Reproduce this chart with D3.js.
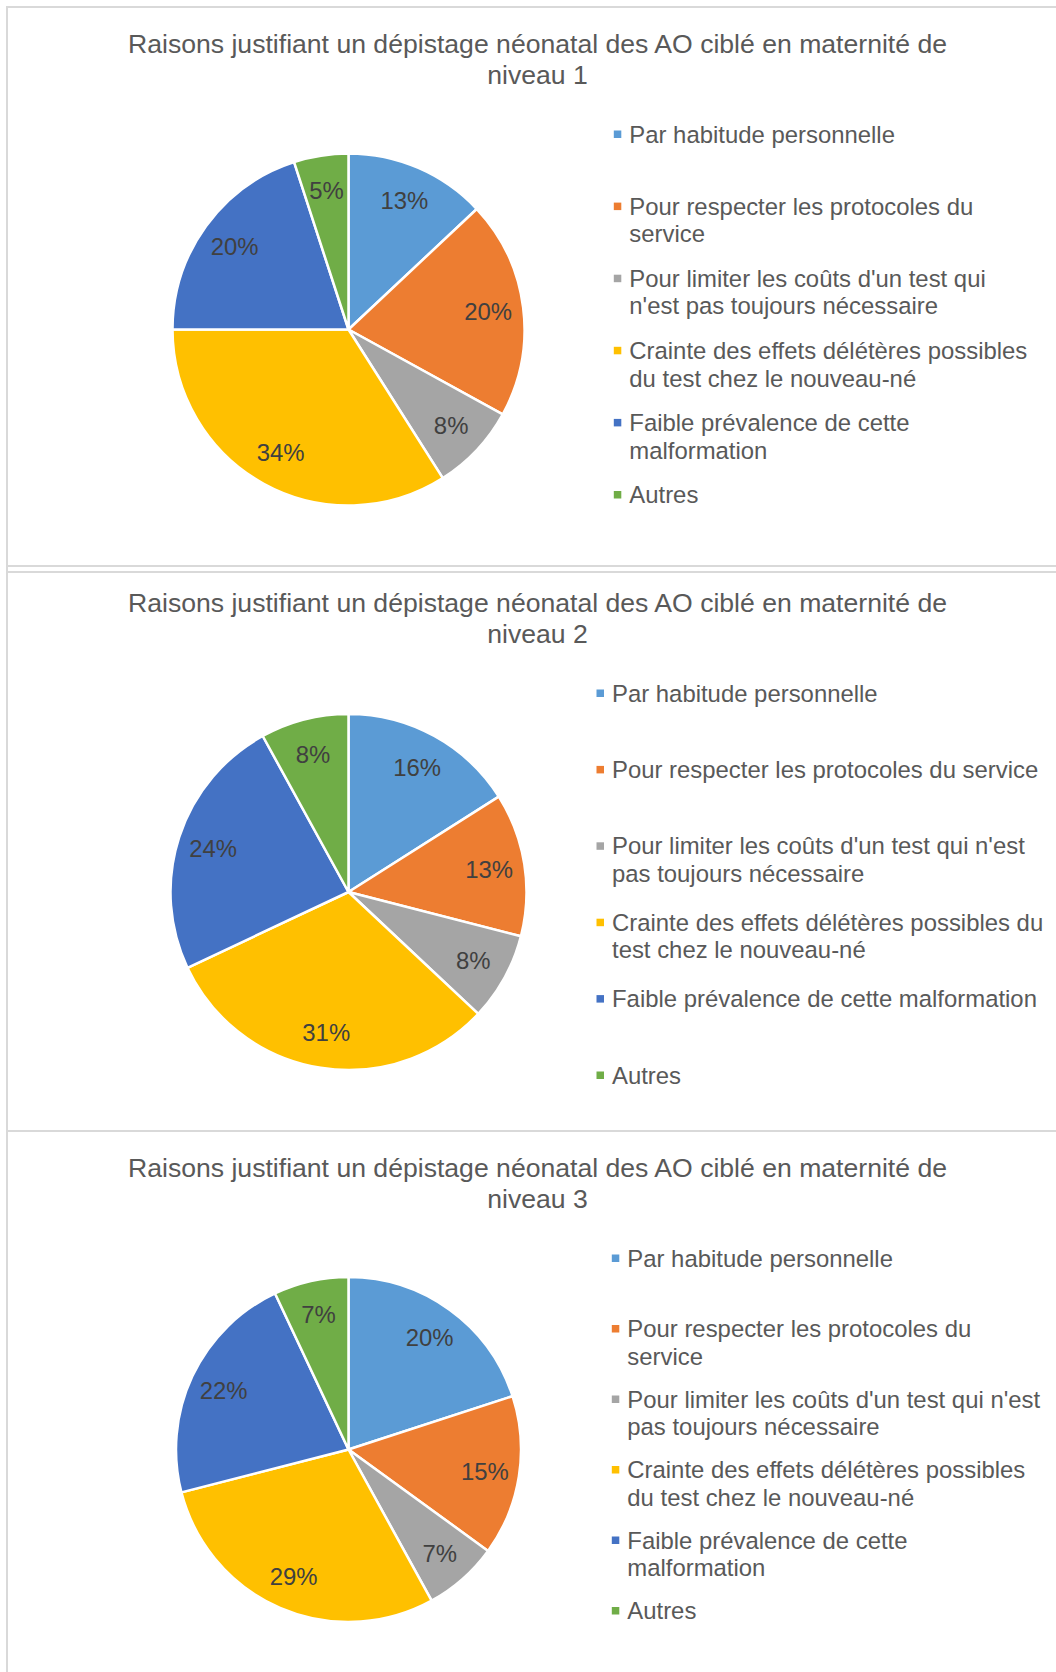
<!DOCTYPE html>
<html>
<head>
<meta charset="utf-8">
<script src="https://cdn.jsdelivr.net/npm/d3@7"></script>
<style>
  body { margin: 0; background: #fff; }
  svg { display: block; font-family: "Liberation Sans", Arial, sans-serif; }
</style>
</head>
<body>
<svg id="chart"></svg>
<script>
// categories shared by the three charts
let categories = [
  "Par habitude personnelle",
  "Pour respecter les protocoles du service",
  "Pour limiter les coûts d'un test qui n'est pas toujours nécessaire",
  "Crainte des effets délétères possibles du test chez le nouveau-né",
  "Faible prévalence de cette malformation",
  "Autres"
];
let colors = ["#5B9BD5", "#ED7D31", "#A5A5A5", "#FFC000", "#4472C4", "#70AD47"];

let titles = [
  "Raisons justifiant un dépistage néonatal des AO ciblé en maternité de niveau 1",
  "Raisons justifiant un dépistage néonatal des AO ciblé en maternité de niveau 2",
  "Raisons justifiant un dépistage néonatal des AO ciblé en maternité de niveau 3"
];

// percentages (niveau 1, 2, 3)
let niveau1 = [13, 20, 8, 34, 20, 5];
let niveau2 = [16, 13, 8, 31, 24, 8];
let niveau3 = [20, 15, 7, 29, 22, 7];

let width = 1056;
let height = 1672;
let fontSize = 23.9;
let titleSize = 26.6;

// layout of each panel (picked to match the screenshot)
let panels = [
  { top: 7, values: niveau1, cyOff: 322.5, r: 176, legendX: 629.3, legendStep: 72.1, wrap: 406 },
  { top: 566, values: niveau2, cyOff: 326, r: 178, legendX: 612, legendStep: 76.4, wrap: 445 },
  { top: 1131, values: niveau3, cyOff: 318.5, r: 172.5, legendX: 627.3, legendStep: 70.5, wrap: 419 }
];

let svg = d3.select("#chart").attr("width", width).attr("height", height);

// measure text to wrap lines like Excel does
let measure = svg.append("text").attr("visibility", "hidden");
const wrapText = (str, maxW, size) => {
  measure.attr("font-size", size);
  let words = str.split(" ");
  let lines = [];
  let line = "";
  words.forEach((w) => {
    let test = line ? line + " " + w : w;
    measure.text(test);
    if (line && measure.node().getComputedTextLength() > maxW) {
      lines.push(line);
      line = w;
    } else {
      line = test;
    }
  });
  lines.push(line);
  return lines;
};

const drawPanel = (p, i) => {
  let g = svg.append("g").attr("transform", `translate(0, ${p.top})`);

  g.append("rect")
    .attr("x", 7)
    .attr("y", 0)
    .attr("width", 1070)
    .attr("height", 565)
    .attr("fill", "none")
    .attr("stroke", "#d9d9d9")
    .attr("stroke-width", 2);

  // title
  let titleLines = wrapText(titles[i], 870, titleSize);
  g.append("text")
    .attr("text-anchor", "middle")
    .attr("font-size", titleSize)
    .attr("fill", "#595959")
    .selectAll("tspan")
    .data(titleLines)
    .enter()
    .append("tspan")
    .attr("x", 537.5)
    .attr("y", (d, k) => 46.3 + k * 30.7)
    .text((d) => d);

  // pie
  let cx = 348.5;
  let pie = d3.pie().sort(null).value((d) => d);
  let arcs = pie(p.values);
  let arc = d3.arc().innerRadius(0).outerRadius(p.r);
  let labelArc = d3.arc().innerRadius(p.r * 0.8).outerRadius(p.r * 0.8);

  let pg = g.append("g").attr("transform", `translate(${cx}, ${p.cyOff})`);

  pg.selectAll("path")
    .data(arcs)
    .enter()
    .append("path")
    .attr("d", arc)
    .attr("fill", (d, k) => colors[k])
    .attr("stroke", "#fff")
    .attr("stroke-width", 2.5)
    .attr("stroke-linejoin", "round");

  pg.selectAll("text.lbl")
    .data(arcs)
    .enter()
    .append("text")
    .attr("class", "lbl")
    .attr("transform", (d) => `translate(${labelArc.centroid(d)})`)
    .attr("text-anchor", "middle")
    .attr("dy", "0.36em")
    .attr("font-size", fontSize)
    .attr("fill", "#404040")
    .text((d) => d.data + "%");

  // legend
  let items = g.selectAll("g.item")
    .data(categories)
    .enter()
    .append("g")
    .attr("class", "item")
    .attr("transform", (d, k) => `translate(${p.legendX}, ${135.5 + k * p.legendStep})`);

  items.append("rect")
    .attr("x", -15.5)
    .attr("y", -12)
    .attr("width", 7.5)
    .attr("height", 7.5)
    .attr("fill", (d, k) => colors[k]);

  items.append("text")
    .attr("font-size", fontSize)
    .attr("fill", "#595959")
    .selectAll("tspan")
    .data((d) => wrapText(d, p.wrap, fontSize))
    .enter()
    .append("tspan")
    .attr("x", 0)
    .attr("y", (d, k) => k * 27.8)
    .text((d) => d);
};

panels.forEach(drawPanel);
measure.remove();
</script>
</body>
</html>
